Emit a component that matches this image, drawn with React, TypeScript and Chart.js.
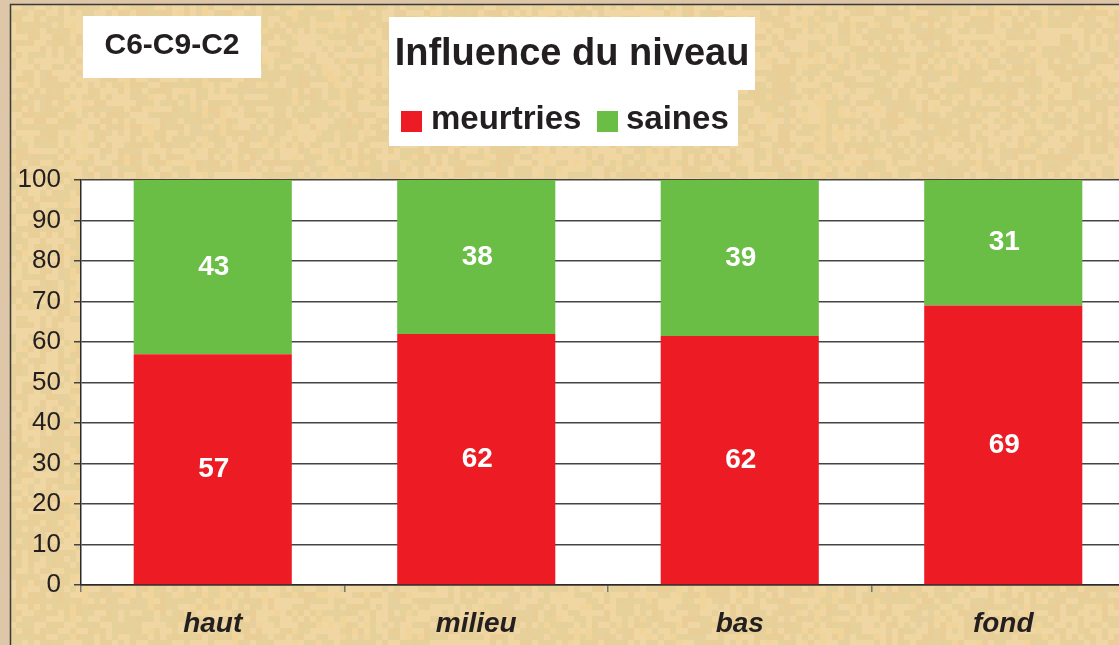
import React, { useEffect, useRef } from "react";
import { Chart, registerables } from "chart.js";

Chart.register(...registerables);

const categories = ["haut", "milieu", "bas", "fond"];
const meurtries = [57, 62, 61.5, 69];
const saines = [43, 38, 38.5, 31];
const seriesNames = ["meurtries", "saines"];
const seriesColors = ["#ED1C24", "#6ABD45"];
const chartTitle = "Influence du niveau";
const chartSubtitle = "C6-C9-C2";

const FONT = "Arial, 'Liberation Sans', Helvetica, sans-serif";
const TEXT = "#231F20";

function hash(a: number, b: number): number {
  let h = (a * 374761393 + b * 668265263) | 0;
  h = (h ^ (h >>> 13)) * 1274126177;
  h = h ^ (h >>> 16);
  return ((h >>> 0) % 1000) / 1000;
}

const backgroundPlugin = {
  id: "parchment",
  beforeDraw(chart: any) {
    const ctx = chart.ctx as CanvasRenderingContext2D;
    const W = chart.width;
    const H = chart.height;
    ctx.save();
    ctx.fillStyle = "rgb(222,198,168)";
    ctx.fillRect(0, 0, W, H);
    ctx.fillStyle = "rgb(236,210,156)";
    ctx.fillRect(10, 4, W - 10, H - 4);
    const palette = [
      "rgba(248,214,152,0.45)",
      "rgba(222,208,156,0.4)",
      "rgba(244,220,172,0.4)",
      "rgba(230,200,146,0.35)",
      "rgba(216,206,160,0.3)",
    ];
    const bw = 6;
    for (let x = 10; x < W; x += bw) {
      const colTone = hash(x, 7);
      for (let y = 4; y < H; y += bw) {
        const r = hash(x, y);
        const idx = Math.floor((r * 0.5 + colTone * 0.5) * palette.length) % palette.length;
        ctx.fillStyle = palette[idx];
        ctx.fillRect(x, y, bw, bw);
      }
    }
    ctx.strokeStyle = "#3a3a3a";
    ctx.lineWidth = 1.5;
    ctx.beginPath();
    ctx.moveTo(10.5, H);
    ctx.lineTo(10.5, 4.5);
    ctx.lineTo(W, 4.5);
    ctx.stroke();
    const a = chart.chartArea;
    ctx.fillStyle = "#FFFFFF";
    ctx.fillRect(a.left, a.top, a.right - a.left, a.bottom - a.top);
    ctx.restore();
  },
};

const labelsPlugin = {
  id: "segmentLabels",
  afterDatasetsDraw(chart: any) {
    const ctx = chart.ctx as CanvasRenderingContext2D;
    ctx.save();
    ctx.fillStyle = "#FFFFFF";
    ctx.font = `bold 28px ${FONT}`;
    ctx.textAlign = "center";
    ctx.textBaseline = "middle";
    chart.data.datasets.forEach((ds: any, di: number) => {
      const meta = chart.getDatasetMeta(di);
      meta.data.forEach((el: any, i: number) => {
        const v = ds.data[i];
        const cy = (el.y + el.base) / 2;
        ctx.fillText(String(Math.round(v)), el.x + 1, cy);
      });
    });
    ctx.restore();
  },
};

const overlayPlugin = {
  id: "overlay",
  afterDraw(chart: any) {
    const ctx = chart.ctx as CanvasRenderingContext2D;
    ctx.save();
    ctx.fillStyle = "#FFFFFF";
    ctx.fillRect(83, 16, 178, 62);
    ctx.fillStyle = TEXT;
    ctx.font = `bold 30px ${FONT}`;
    ctx.textAlign = "center";
    ctx.textBaseline = "alphabetic";
    ctx.fillText(chartSubtitle, 172, 54);
    ctx.fillStyle = "#FFFFFF";
    ctx.fillRect(389, 17, 366, 73);
    ctx.fillRect(389, 90, 349, 56);
    ctx.fillStyle = TEXT;
    ctx.font = `bold 38px ${FONT}`;
    ctx.textAlign = "center";
    ctx.fillText(chartTitle, 572, 65);
    const ds = chart.data.datasets;
    const items = [
      { sx: 401, tx: 431 },
      { sx: 597, tx: 626 },
    ];
    ctx.font = `bold 33px ${FONT}`;
    ctx.textAlign = "left";
    ds.forEach((d: any, i: number) => {
      const it = items[i];
      ctx.fillStyle = d.backgroundColor;
      ctx.fillRect(it.sx, 111, 21, 21);
      ctx.fillStyle = TEXT;
      ctx.fillText(d.label, it.tx, 129);
    });
    ctx.restore();
  },
};

export default function App() {
  const ref = useRef<HTMLCanvasElement | null>(null);
  useEffect(() => {
    if (!ref.current) return;
    const chart = new Chart(ref.current, {
      type: "bar",
      data: {
        labels: categories,
        datasets: [
          {
            label: seriesNames[0],
            data: meurtries,
            backgroundColor: seriesColors[0],
            borderWidth: 0,
            categoryPercentage: 1,
            barPercentage: 0.6,
          },
          {
            label: seriesNames[1],
            data: saines,
            backgroundColor: seriesColors[1],
            borderWidth: 0,
            categoryPercentage: 1,
            barPercentage: 0.6,
          },
        ],
      },
      options: {
        responsive: false,
        animation: false,
        devicePixelRatio: 1,
        layout: { padding: { top: 180, right: 5, left: 0, bottom: 0 } },
        plugins: {
          legend: { display: false },
          title: { display: false },
          tooltip: { enabled: false },
        },
        scales: {
          x: {
            stacked: true,
            afterFit: (s: any) => {
              s.height = 60;
            },
            grid: {
              offset: true,
              drawOnChartArea: false,
              drawTicks: true,
              tickLength: 7,
              color: "#777777",
              lineWidth: 1.5,
            },
            border: { display: true, color: "#2a2a2a", width: 1.5 },
            ticks: {
              color: TEXT,
              padding: 15,
              font: { family: FONT, size: 28, weight: "bold", style: "italic" },
            },
          },
          y: {
            stacked: true,
            min: 0,
            max: 100,
            afterFit: (s: any) => {
              s.width = 81;
            },
            grid: {
              color: "#444444",
              lineWidth: 1.5,
              drawTicks: true,
              tickLength: 7,
            },
            border: { display: true, color: "#2a2a2a", width: 1.5 },
            ticks: {
              stepSize: 10,
              color: TEXT,
              padding: 13,
              font: { family: FONT, size: 26 },
            },
          },
        },
      },
      plugins: [backgroundPlugin, labelsPlugin, overlayPlugin],
    } as any);
    return () => chart.destroy();
  }, []);
  return (
    <div
      style={{
        position: "fixed",
        left: 0,
        top: 0,
        width: 1119,
        height: 645,
        overflow: "hidden",
      }}
    >
      <canvas ref={ref} width={1140} height={645} style={{ width: 1140, height: 645, display: "block" }} />
    </div>
  );
}
